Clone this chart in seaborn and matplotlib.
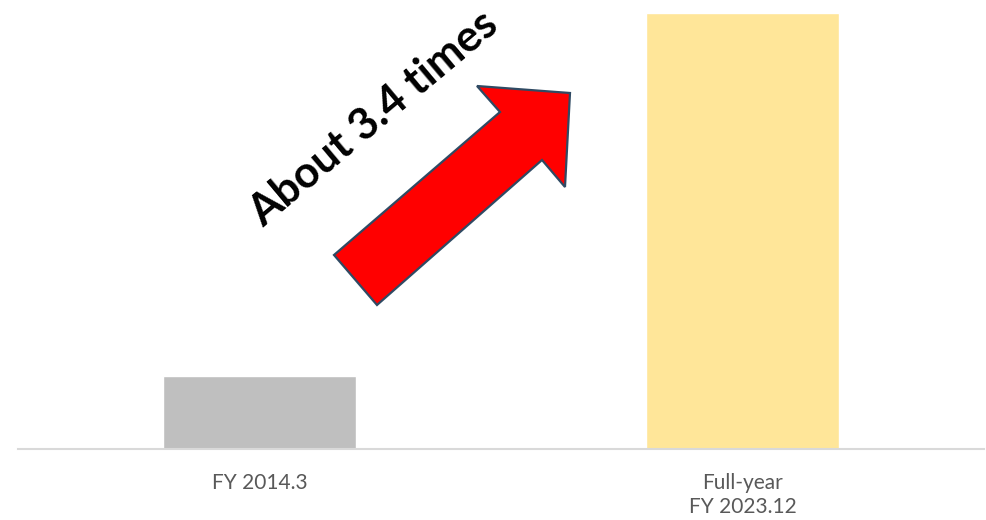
import matplotlib.pyplot as plt
import matplotlib.patches as mpatches
import pandas as pd
import seaborn as sns

# data (relative scale, first bar = 1)
periods = ["FY 2014.3", "Full-year\nFY 2023.12"]
values = [1.0, 5.97]
bar_colors = ["#BFBFBF", "#FFE699"]
note = "About 3.4 times"

W, H = 987, 520

sns.set_style("white")
plt.rcParams["font.family"] = ["Lato", "DejaVu Sans"]

df = pd.DataFrame({"period": periods, "value": values})

fig = plt.figure(figsize=(W / 100, H / 100), dpi=100)
ax = fig.add_axes([18 / W, (H - 449) / H, 966 / W, 436 / H])

sns.barplot(data=df, x="period", y="value", hue="period", palette=bar_colors,
            width=0.40, legend=False, ax=ax, saturation=1)

ax.set_xlim(-0.5, 1.5)
ax.set_ylim(0, max(values))
ax.set_xlabel("")
ax.set_ylabel("")
ax.set_yticks([])
for side in ["top", "right", "left"]:
    ax.spines[side].set_visible(False)
ax.spines["bottom"].set_color("#D9D9D9")
ax.spines["bottom"].set_linewidth(1.5)
ax.tick_params(axis="x", length=0, pad=17, labelsize=15, labelcolor="#595959")
for lbl in ax.get_xticklabels():
    lbl.set_linespacing(1.25)

# block arrow (pixel outline of the shape, converted to figure fraction)
arrow_px = [(334, 255), (500, 112), (477, 86), (570, 93),
            (565, 187), (542, 160), (377, 305)]
arrow_fig = [(x / W, (H - y) / H) for x, y in arrow_px]
fig.patches.append(mpatches.Polygon(arrow_fig, closed=True, facecolor="#FF0000",
                                    edgecolor="#2F4A63", linewidth=1.6,
                                    transform=fig.transFigure, zorder=5))

fig.text(374 / W, (H - 118) / H, note, rotation=40, ha="center", va="center",
         fontsize=31.5, fontweight="bold", color="black", rotation_mode="anchor")

fig.savefig("out.png", dpi=100)
